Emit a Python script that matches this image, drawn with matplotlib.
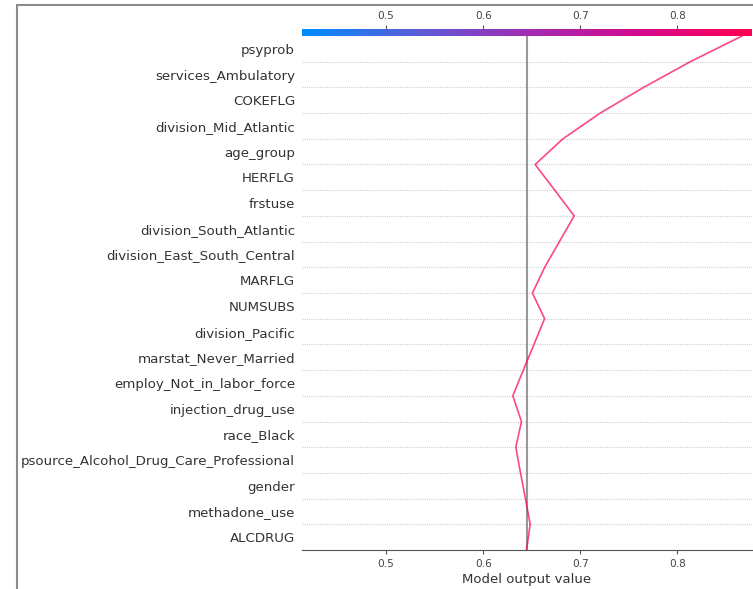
import numpy as np
import matplotlib
matplotlib.use('Agg')
import matplotlib.pyplot as plt
from matplotlib.colors import LinearSegmentedColormap
from matplotlib.patches import Rectangle

# features, most important first
features = ['psyprob', 'services_Ambulatory', 'COKEFLG', 'division_Mid_Atlantic',
            'age_group', 'HERFLG', 'frstuse', 'division_South_Atlantic',
            'division_East_South_Central', 'MARFLG', 'NUMSUBS', 'division_Pacific',
            'marstat_Never_Married', 'employ_Not_in_labor_force', 'injection_drug_use',
            'race_Black', 'psource_Alcohol_Drug_Care_Professional', 'gender',
            'methadone_use', 'ALCDRUG']
shap_values = [0.0533, 0.0481, 0.0447, 0.0384, 0.0286, -0.0202, -0.0200, 0.0152,
               0.0152, 0.0126, -0.0125, 0.0109, 0.0110, 0.0108, -0.0089, 0.0058,
               -0.0048, -0.0051, -0.0049, 0.0038]
base_value = 0.6447
x_ticks = [0.5, 0.6, 0.7, 0.8]
x_range = [0.4134, 0.877]

# shap red/blue colour map
red_blue = LinearSegmentedColormap.from_list(
    'red_blue', ['#008bfb', '#5a5ed9', '#a12db3', '#d4098f', '#ff0052'])

n = len(features)
# accumulate from the bottom feature upwards
vals = np.array(shap_values[::-1])
cumsum = np.concatenate([[base_value], base_value + np.cumsum(vals)])
y_pos = np.arange(n + 1)

fig = plt.figure(figsize=(7.53, 5.89), dpi=100)

# outer frame
frame = Rectangle((17 / 753, -0.1), 1.2, 584 / 589 + 0.1, transform=fig.transFigure,
                  fill=False, edgecolor='#8c8c8c', lw=1.5, clip_on=False)
fig.patches.append(frame)

ax = fig.add_axes([302 / 753, 39 / 589, 450 / 753, 514 / 589])
ax.set_xlim(x_range)
ax.set_ylim(0, n)

# dotted line at each feature
for i in range(n):
    ax.axhline(i, color='#c4c4c4', lw=0.8, dashes=(0.8, 1.2), zorder=-1)

# base value
ax.axvline(base_value, color='#999999', lw=1.5, zorder=1)

frac = (cumsum[-1] - x_range[0]) / (x_range[1] - x_range[0])
ax.plot(cumsum, y_pos, color=red_blue(frac), lw=1.2, alpha=0.72, zorder=2)

ax.set_yticks(np.arange(n) + 0.5)
ax.set_yticklabels(features[::-1], fontsize=9.6, color='#333333')
ax.tick_params(axis='y', length=0, pad=5)
ax.set_xticks(x_ticks)
ax.tick_params(axis='x', labelsize=7.6, colors='#555555', length=3, width=0.8)
for lab in ax.get_xticklabels():
    lab.set_color('#444444')
ax.set_xlabel('Model output value', fontsize=9.5, color='#333333', labelpad=3)

for s in ['left', 'right', 'top']:
    ax.spines[s].set_visible(False)
ax.spines['bottom'].set_color('#555555')

# colour bar along the top
cax = fig.add_axes([302 / 753, (589 - 35.7) / 589, 450 / 753, 6.4 / 589])
grad = np.linspace(0, 1, 512).reshape(1, -1)
cax.imshow(grad, aspect='auto', cmap=red_blue,
           extent=[x_range[0], x_range[1], 0, 1])
cax.set_xlim(x_range)
cax.set_yticks([])
cax.set_xticks(x_ticks)
cax.xaxis.set_ticks_position('top')
cax.tick_params(axis='x', labelsize=7.6, colors='#555555', length=3, width=0.8, pad=3)
for lab in cax.get_xticklabels():
    lab.set_color('#444444')
for s in cax.spines.values():
    s.set_visible(False)

fig.savefig('out.png', dpi=100)
